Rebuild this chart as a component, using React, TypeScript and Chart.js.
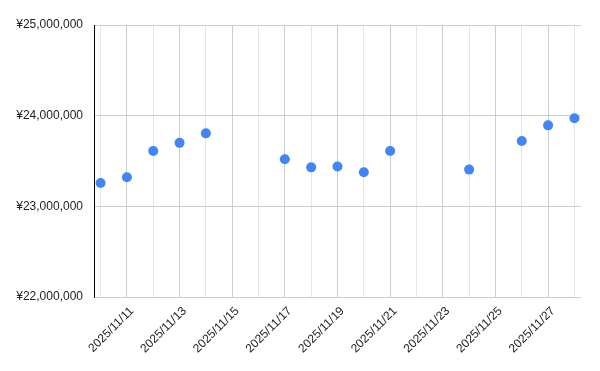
import React, { useEffect, useRef } from "react";
import { Chart, registerables } from "chart.js";

Chart.register(...registerables);

const dayLabels = [10, 11, 12, 13, 14, 17, 18, 19, 20, 21, 24, 26, 27, 28];
const prices = [
  23257000, 23320000, 23610000, 23700000, 23805000, 23520000, 23430000,
  23440000, 23375000, 23610000, 23405000, 23720000, 23893000, 23972000,
];
const tickDays = [10, 11, 12, 13, 14, 15, 16, 17, 18, 19, 20, 21, 22, 23, 24, 25, 26, 27, 28];
const yTicks = [22000000, 23000000, 24000000, 25000000];

export default function App() {
  const ref = useRef<HTMLCanvasElement>(null);
  useEffect(() => {
    document.body.style.margin = "0";
    const ctx = ref.current!;
    const chart = new Chart(ctx, {
      type: "scatter",
      data: {
        datasets: [
          {
            data: dayLabels.map((d, i) => ({ x: d, y: prices[i] })),
            backgroundColor: "#4285F4",
            borderWidth: 0,
            pointRadius: 5,
            pointHoverRadius: 5,
          },
        ],
      },
      options: {
        animation: false,
        responsive: false,
        layout: { padding: { top: 25, right: 19, bottom: 0, left: 0 } },
        plugins: { legend: { display: false }, tooltip: { enabled: false } },
        scales: {
          x: {
            type: "linear",
            min: 9.75,
            max: 28.25,
            afterBuildTicks: (s: any) => {
              s.ticks = tickDays.map((v) => ({ value: v }));
            },
            afterFit: (s: any) => {
              s.height = 74;
            },
            border: { display: false },
            grid: {
              drawTicks: false,
              color: (c: any) => (c.tick && c.tick.value % 2 === 1 ? "#cccccc" : "#e6e6e6"),
            },
            ticks: {
              autoSkip: false,
              minRotation: 45,
              maxRotation: 45,
              padding: 7,
              labelOffset: 5,
              color: "#222222",
              font: { family: "Arial, 'Liberation Sans'", size: 12 },
              callback: (v: any) => (Number(v) % 2 === 1 ? `2025/11/${v}` : ""),
            },
          },
          y: {
            min: 22000000,
            max: 25000000,
            afterBuildTicks: (s: any) => {
              s.ticks = yTicks.map((v) => ({ value: v }));
            },
            afterFit: (s: any) => {
              s.width = 94;
            },
            border: { display: true, color: "#000000", width: 1 },
            grid: { drawTicks: false, color: "#cccccc" },
            ticks: {
              padding: 11,
              color: "#222222",
              font: { family: "Arial, 'Liberation Sans'", size: 12 },
              callback: (v: any) => "¥" + Number(v).toLocaleString("en-US"),
            },
          },
        },
      },
    });
    return () => chart.destroy();
  }, []);
  return <canvas ref={ref} width={600} height={371} style={{ display: "block" }} />;
}
